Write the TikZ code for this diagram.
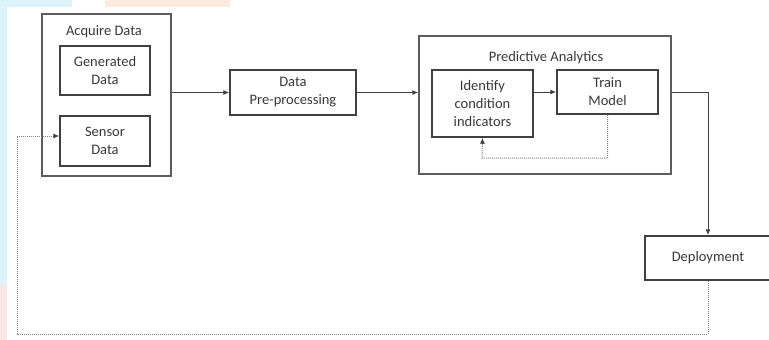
\documentclass[tikz,border=0pt]{standalone}
\usepackage{fontspec}
\setmainfont{Carlito}
\usetikzlibrary{arrows.meta,positioning}
\definecolor{linec}{HTML}{404040}
\definecolor{txtc}{HTML}{383838}
\definecolor{dotc}{HTML}{858585}
\definecolor{bgcyan}{HTML}{DDF5FA}
\definecolor{bgpink}{HTML}{FCE6E8}
\definecolor{bgpeach}{HTML}{FCEBDC}
\begin{document}
\begin{tikzpicture}[x=1pt,y=-1pt,
  font=\fontsize{14.5}{18}\selectfont, text=txtc,
  box/.style={draw=linec, line width=1.5pt, inner sep=0pt, align=center},
  outerbox/.style={draw=linec!85, line width=1.4pt, inner sep=0pt},
  lbl/.style={inner sep=0pt, align=center},
  arr/.style={draw=linec, line width=1pt, -{Latex[length=6pt,width=5pt]}},
  dotarr/.style={draw=dotc, line width=1pt, densely dotted, -{Latex[length=6pt,width=5pt,color=linec,fill=linec]}},
]
\useasboundingbox (0,0) rectangle (769,340);
% background tints
\fill[bgcyan] (0,0) rectangle (72,7);
\fill[bgpeach] (105,0) rectangle (230,7);
\fill[bgcyan] (0,0) rectangle (7,285);
\fill[bgpink] (0,285) rectangle (7,340);

% Acquire Data group
\node[outerbox, minimum width=129pt, minimum height=162pt] (acq) at (106.5,95) {};
\node[lbl] (acqlbl) at (104,32) {Acquire Data};
\node[box, minimum width=90pt, minimum height=49pt] (gen) at (105,70.5) {Generated\\Data};
\node[box, minimum width=90pt, minimum height=50pt] (sen) at (105,141) {Sensor\\Data};

% Pre-processing
\node[box, minimum width=126pt, minimum height=45pt] (pre) at (293,92.5) {Data\\Pre-processing};

% Predictive Analytics group
\node[outerbox, minimum width=252pt, minimum height=138pt] (pa) at (545,105) {};
\node[lbl] (palbl) at (546,58) {Predictive Analytics};
\node[box, minimum width=101pt, minimum height=67pt] (idf) at (482.5,103.5) {Identify\\condition\\indicators};
\node[box, minimum width=101pt, minimum height=44pt] (trn) at (607.5,92) {Train\\Model};

% Deployment
\node[box, minimum width=126pt, minimum height=44pt] (dep) at (708,258) {Deployment};

% connectors
\draw[arr] (acq.east |- pre.west) -- (pre.west);
\draw[arr] (pre.east) -- (pre.east -| pa.west);
\draw[arr] (idf.east |- trn.west) -- (trn.west);
\draw[arr] (pa.east |- trn.west) -| (dep.north);

\coordinate (fbA) at (482,158);
\draw[dotarr] (trn.south) |- (fbA) -- (idf.south);

\coordinate (fbB) at (708,334);
\coordinate (fbC) at (17,334);
\coordinate (fbD) at (17,136);
\draw[dotarr] (dep.south) -- (fbB) -- (fbC) -- (fbD) -- (sen.west |- fbD);
\end{tikzpicture}
\end{document}
